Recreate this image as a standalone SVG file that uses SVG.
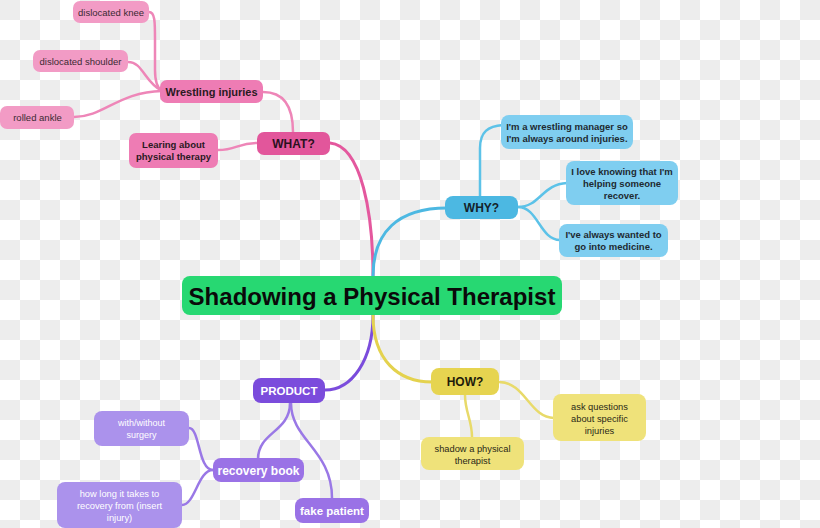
<svg xmlns="http://www.w3.org/2000/svg" width="820" height="528" viewBox="0 0 820 528">
<defs>
<pattern id="chk" width="40" height="40" patternUnits="userSpaceOnUse">
<rect width="40" height="40" fill="#ffffff"/>
<rect x="0" y="0" width="20" height="20" fill="#ededed"/>
<rect x="20" y="20" width="20" height="20" fill="#ededed"/>
</pattern>
<style>
text{font-family:"Liberation Sans",Arial,sans-serif;text-anchor:middle;}
.c{fill:none;stroke-linecap:round;}
.pk{stroke:#ee86b8;stroke-width:2.5;}
.pkm{stroke:#e4589e;stroke-width:3;}
.bl{stroke:#5cc2e8;stroke-width:2.5;}
.blm{stroke:#4cb8e2;stroke-width:3;}
.pu{stroke:#9a78e6;stroke-width:2.5;}
.pum{stroke:#7b4cdc;stroke-width:3;}
.ye{stroke:#e8da6a;stroke-width:2.5;}
.yem{stroke:#e4d24e;stroke-width:3;}
.b{font-weight:bold;}
.dk{fill:#222222;}
.wt{fill:#ffffff;}
</style>
</defs>
<rect width="820" height="528" fill="url(#chk)"/>

<g id="connectors">
<path class="c pkm" d="M330,143 C362,146 373,215 373,276"/>
<path class="c pk" d="M293,132 C293,108 285,92 263,92"/>
<path class="c pk" d="M257,143 C238,143 236,150 218,150"/>
<path class="c pk" d="M149,12 C155,12 155,22 155,40 L155,70 C155,82 157,88 162,91"/>
<path class="c pk" d="M128,62 C143,62 144,82 162,91"/>
<path class="c pk" d="M74,117 C104,117 118,92 162,91"/>
<path class="c blm" d="M373,276 C373,232 398,208 447,208"/>
<path class="c bl" d="M480,196 L480,148 C480,132 488,126 503,125"/>
<path class="c bl" d="M518,207 C540,207 542,184 567,183"/>
<path class="c bl" d="M518,207 C538,207 540,240 560,240"/>
<path class="c pum" d="M373,315 C373,360 352,390 325,390"/>
<path class="c pu" d="M290,403 C290,432 258,432 258,459"/>
<path class="c pu" d="M291,403 C291,440 332,450 332,498"/>
<path class="c pu" d="M213,470 C198,470 200,428 189,428"/>
<path class="c pu" d="M213,470 C198,470 195,505 182,505"/>
<path class="c yem" d="M373,315 C373,360 398,382 432,382"/>
<path class="c ye" d="M499,382 C525,382 530,418 554,418"/>
<path class="c ye" d="M465,395 C465,412 472,420 472,437"/>
</g>

<g id="center">
<rect x="182" y="276" width="380" height="39" rx="8" fill="#27d872"/>
<text x="372" y="304.5" font-size="24" class="b" fill="#0a0a0a">Shadowing a Physical Therapist</text>
</g>

<g id="what">
<rect x="257" y="132" width="73" height="23" rx="7" fill="#e2569b"/>
<text x="293.5" y="148" font-size="12" class="b" fill="#2a1020">WHAT?</text>
</g>
<g id="wrestling">
<rect x="160" y="80" width="103" height="23" rx="7" fill="#ee7cb4"/>
<text x="211.5" y="95.5" font-size="11" class="b" fill="#2a1a22">Wrestling injuries</text>
</g>
<g id="knee">
<rect x="73" y="1" width="76" height="22" rx="7" fill="#f29bc5"/>
<text x="111" y="15.5" font-size="9.5" fill="#3a2a32">dislocated knee</text>
</g>
<g id="shoulder">
<rect x="33" y="50" width="95" height="22" rx="7" fill="#f29bc5"/>
<text x="80.5" y="64.5" font-size="9.5" fill="#3a2a32">dislocated shoulder</text>
</g>
<g id="ankle">
<rect x="0" y="106" width="74" height="23" rx="7" fill="#f29bc5"/>
<text x="37.5" y="121" font-size="9.5" fill="#3a2a32">rolled ankle</text>
</g>
<g id="learing">
<rect x="129" y="133" width="89" height="35" rx="7" fill="#ee7cb4"/>
<text x="173.5" y="148" font-size="9.5" class="b" fill="#2a1a22">Learing about</text>
<text x="173.5" y="160" font-size="9.5" class="b" fill="#2a1a22">physical therapy</text>
</g>

<g id="why">
<rect x="445" y="196" width="73" height="23" rx="8" fill="#4cb8e2"/>
<text x="481.5" y="212" font-size="12" class="b" fill="#14222a">WHY?</text>
</g>
<g id="manager">
<rect x="501" y="115" width="132" height="34" rx="8" fill="#7fcef0"/>
<text x="567" y="129.5" font-size="9.5" class="b" fill="#1e2a30">I'm a wrestling manager so</text>
<text x="567" y="141.5" font-size="9.5" class="b" fill="#1e2a30">I'm always around injuries.</text>
</g>
<g id="love">
<rect x="566" y="161" width="112" height="44" rx="8" fill="#7fcef0"/>
<text x="622" y="175" font-size="9.5" class="b" fill="#1e2a30">I love knowing that I'm</text>
<text x="622" y="187" font-size="9.5" class="b" fill="#1e2a30">helping someone</text>
<text x="622" y="199" font-size="9.5" class="b" fill="#1e2a30">recover.</text>
</g>
<g id="medicine">
<rect x="559" y="224" width="109" height="33" rx="8" fill="#7fcef0"/>
<text x="613.5" y="238" font-size="9.5" class="b" fill="#1e2a30">I've always wanted to</text>
<text x="613.5" y="250" font-size="9.5" class="b" fill="#1e2a30">go into medicine.</text>
</g>

<g id="product">
<rect x="253" y="378" width="72" height="25" rx="8" fill="#7b4cdc"/>
<text x="289" y="394.5" font-size="11.5" class="b wt">PRODUCT</text>
</g>
<g id="recovery">
<rect x="213" y="458" width="91" height="24" rx="8" fill="#9a72e6"/>
<text x="258.5" y="474.5" font-size="12" class="b wt">recovery book</text>
</g>
<g id="fake">
<rect x="295" y="498" width="74" height="25" rx="8" fill="#9a72e6"/>
<text x="332" y="514.5" font-size="11.5" class="b wt">fake patient</text>
</g>
<g id="surgery">
<rect x="94" y="411" width="95" height="35" rx="8" fill="#ab92ec"/>
<text x="141.5" y="425.5" font-size="9" class="wt">with/without</text>
<text x="141.5" y="438" font-size="9" class="wt">surgery</text>
</g>
<g id="howlong">
<rect x="57" y="482" width="125" height="46" rx="8" fill="#ab92ec"/>
<text x="119.5" y="496.5" font-size="9.3" class="wt">how long it takes to</text>
<text x="119.5" y="508.5" font-size="9.3" class="wt">recovery from (insert</text>
<text x="119.5" y="520.5" font-size="9.3" class="wt">injury)</text>
</g>

<g id="how">
<rect x="431" y="368" width="68" height="27" rx="8" fill="#e6d450"/>
<text x="465" y="386" font-size="12" class="b" fill="#1e1c0a">HOW?</text>
</g>
<g id="ask">
<rect x="553" y="394" width="93" height="47" rx="8" fill="#efe27a"/>
<text x="599.5" y="409.5" font-size="9.3" fill="#2a2818">ask questions</text>
<text x="599.5" y="421.5" font-size="9.3" fill="#2a2818">about specific</text>
<text x="599.5" y="433.5" font-size="9.3" fill="#2a2818">injuries</text>
</g>
<g id="shadow">
<rect x="421" y="437" width="103" height="33" rx="8" fill="#efe27a"/>
<text x="472.5" y="451.5" font-size="9.3" fill="#2a2818">shadow a physical</text>
<text x="472.5" y="463.5" font-size="9.3" fill="#2a2818">therapist</text>
</g>
</svg>
